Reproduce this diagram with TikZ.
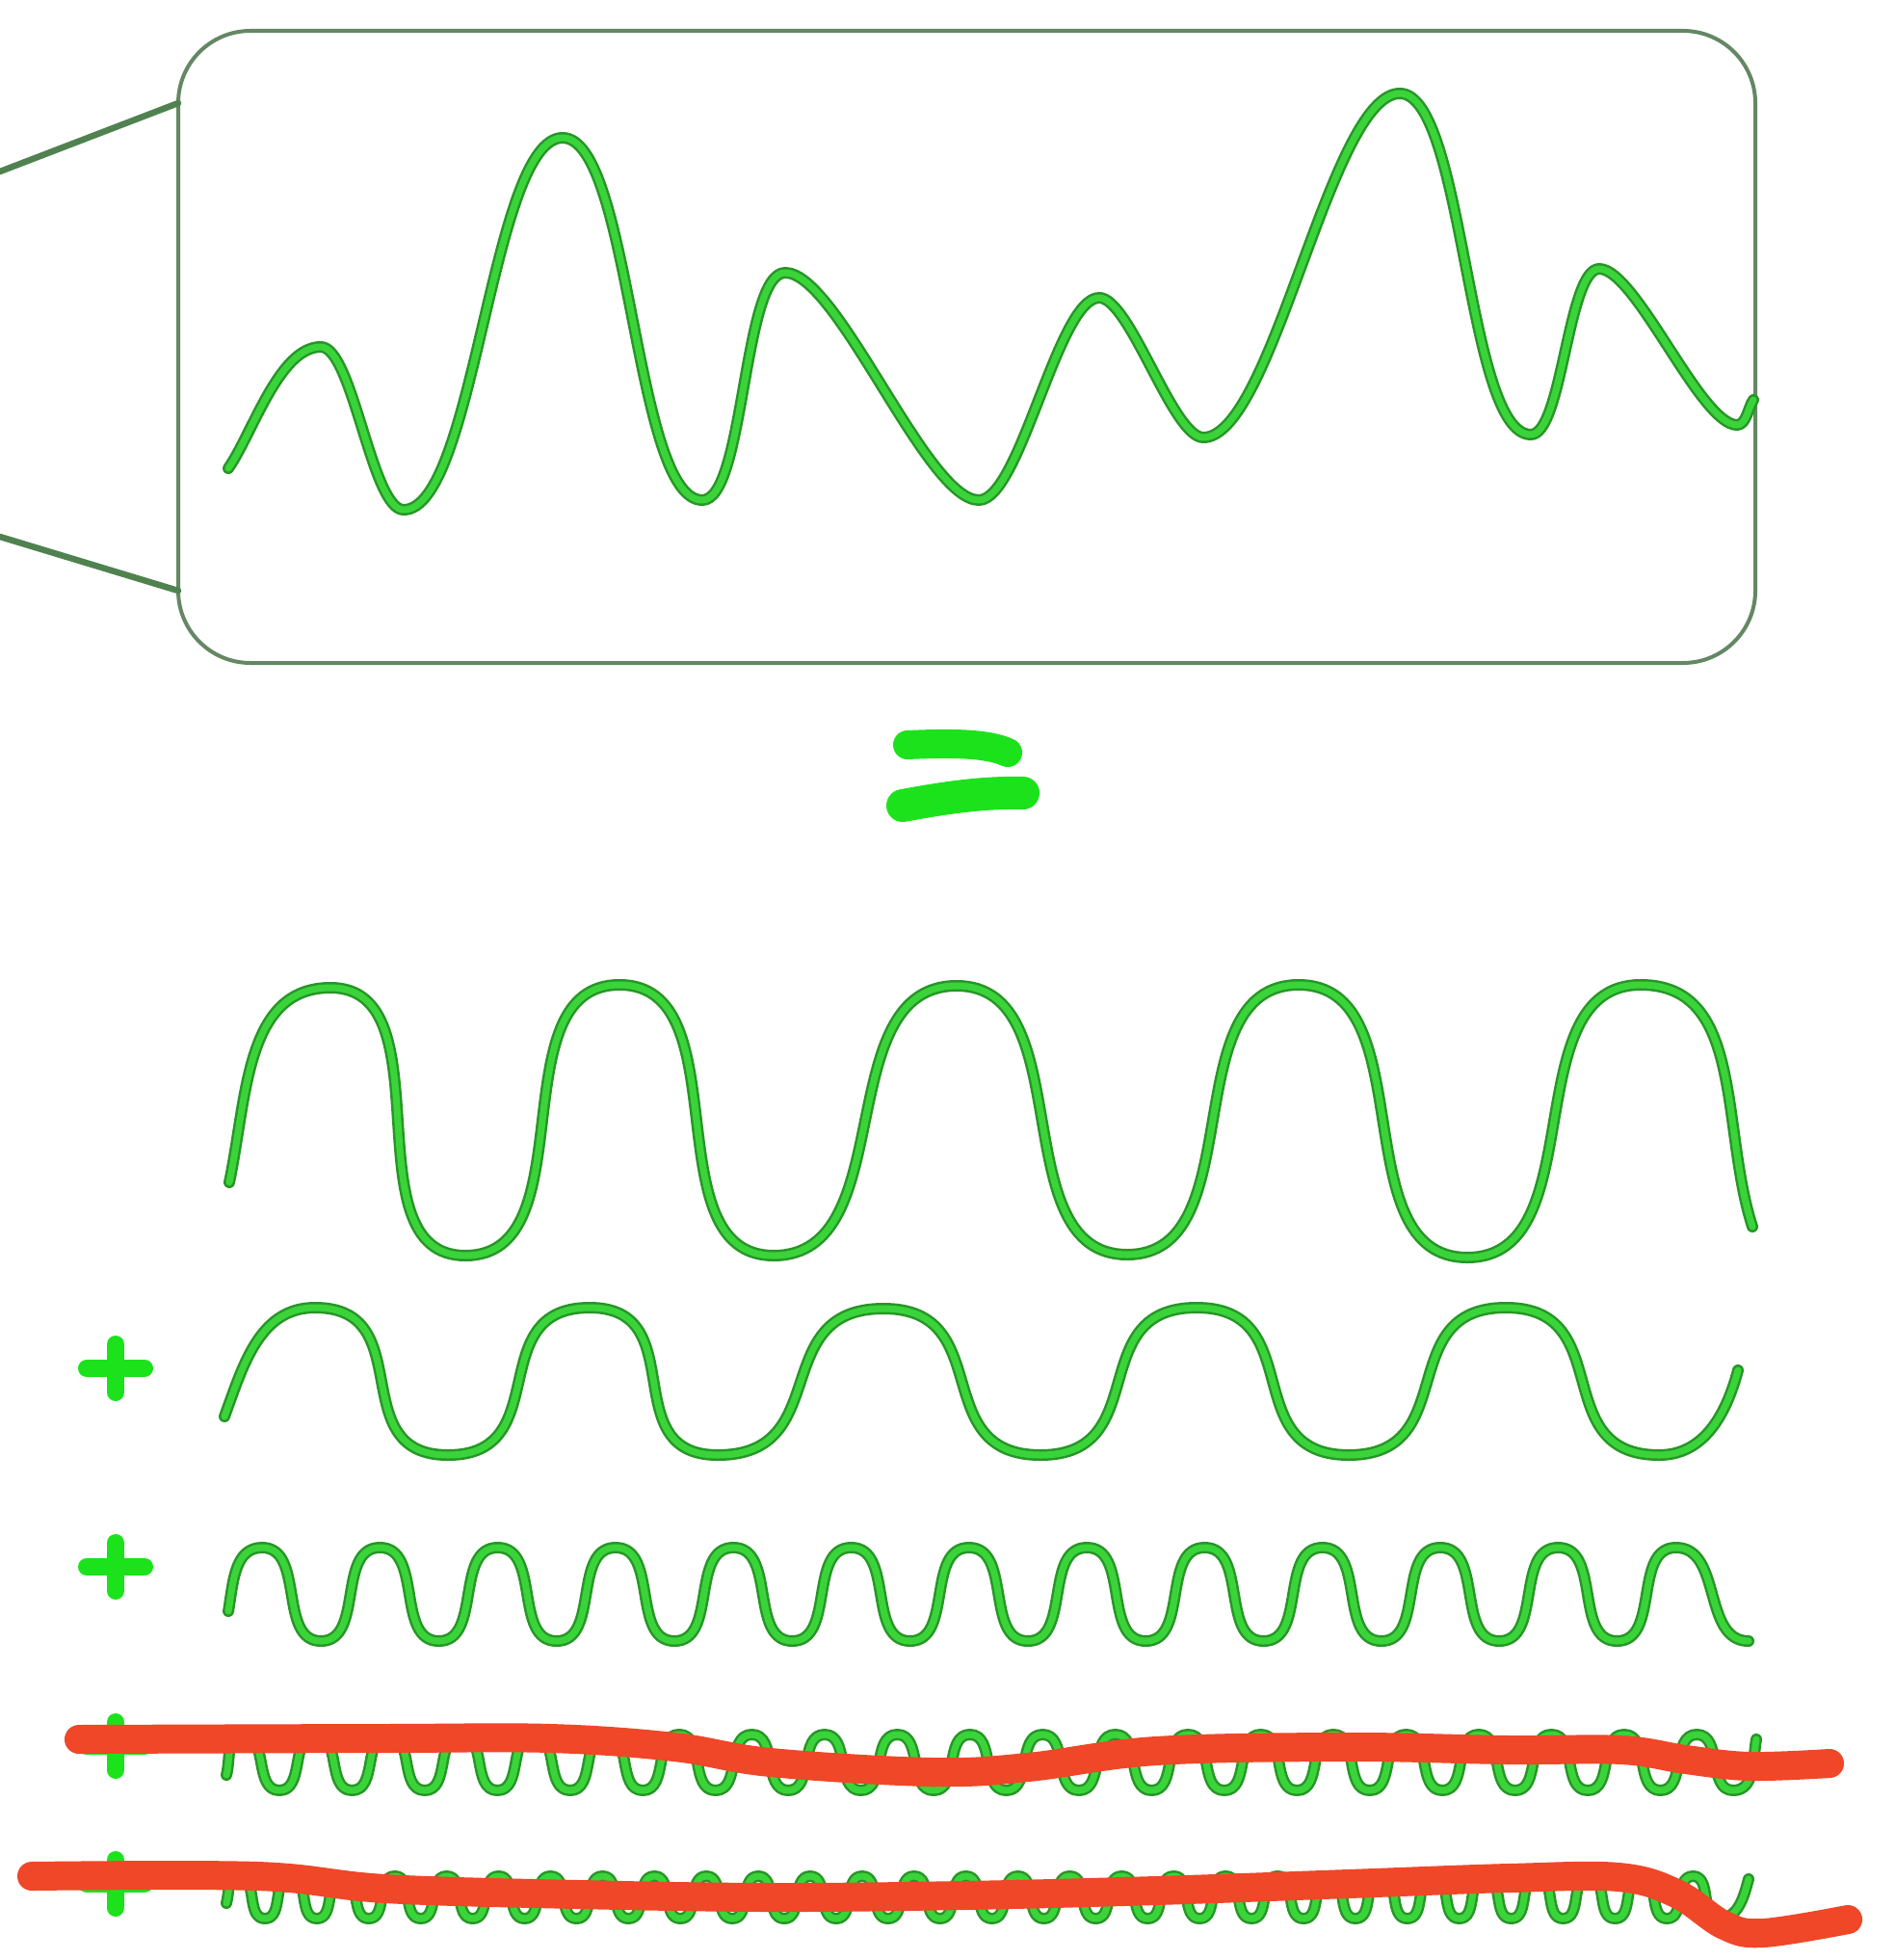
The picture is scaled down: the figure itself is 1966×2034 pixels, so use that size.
\documentclass[tikz,border=0pt]{standalone}
\definecolor{wavegreen}{RGB}{58,212,58}
\definecolor{waveedge}{RGB}{38,150,38}
\definecolor{markgreen}{RGB}{28,226,28}
\definecolor{boxgray}{RGB}{100,135,100}
\definecolor{tabgreen}{RGB}{80,130,80}
\definecolor{strikered}{RGB}{239,71,39}
\begin{document}
\begin{tikzpicture}[
    x=0.01cm, y=0.01cm,
    boxline/.style={draw=boxgray, line width=0.04cm},
    tabline/.style={draw=tabgreen, line width=0.065cm, line cap=round},
    wave/.style={draw=waveedge, double=wavegreen, double distance=0.07cm, line width=0.025cm, line cap=round, line join=round},
    plusmark/.style={draw=markgreen, line width=0.18cm, line cap=round},
    eqbar/.style={draw=markgreen, line cap=round},
    strikeline/.style={draw=strikered, line width=0.30cm, line cap=round, line join=round}
  ]
    \useasboundingbox (0,0) rectangle (1966,-2034);
    \draw[boxline, rounded corners=0.75cm] (185,-32) rectangle (1822,-688);
    \draw[tabline] (0,-178) -- (185,-107);
    \draw[tabline] (0,-557) -- (185,-613);
    \draw[wave, out=0, in=180, looseness=0.45] (237,-486) to[out=55,looseness=0.7] (333,-360) to (419,-529)
      to (584,-143) to (729,-519) to (815,-283) to (1016,-519) to (1141,-309) to (1249,-454)
      to (1453,-97) to (1589,-451) to (1660,-279) to (1803,-441) to[in=235,looseness=0.8] (1820,-415);
    \draw[eqbar, line width=0.30cm] (942,-773) .. controls (985,-771) and (1025,-771) .. (1046,-781);
    \draw[eqbar, line width=0.34cm] (937,-836) .. controls (980,-828) and (1020,-822) .. (1062,-823);
    \draw[wave, out=0, in=180] (238,-1227) to[out=78] (343,-1025) to (483,-1303) to (643,-1022)
      to (803,-1303) to (993,-1023) to (1170,-1302) to (1348,-1022) to (1523,-1305)
      to (1703,-1022) to[in=108] (1819,-1273);
    \draw[wave, out=0, in=180, looseness=1.35] (233,-1470) to[out=70,looseness=1] (327,-1357) to (465,-1510) to (612,-1357)
      to (745,-1510) to (917,-1358) to (1080,-1510) to (1242,-1357) to (1400,-1510)
      to (1563,-1357) to (1722,-1510) to[in=255,looseness=1] (1804,-1422);
    \draw[wave, out=0, in=180] (237,-1672) to[out=80] (272,-1606)
      \foreach \k [evaluate=\k as \xa using 272+(\k+0.5)*122.3,
                   evaluate=\k as \xb using 272+(\k+1)*122.3] in {0,...,11} { to (\xa,-1703) to (\xb,-1606) }
      to (1815,-1703);
    \draw[wave, out=0, in=180] (235,-1842) to[out=75] (252,-1800)
      \foreach \k [evaluate=\k as \xa using 290+\k*75.45,
                   evaluate=\k as \xb using 290+(\k+0.5)*75.45] in {0,...,19} { to (\xa,-1858) to (\xb,-1800) }
      to (1799,-1858) to[in=260] (1823,-1805);
    \draw[wave, out=0, in=180] (235,-1975) to[out=75] (248,-1947)
      \foreach \k [evaluate=\k as \xa using 275+\k*53.9,
                   evaluate=\k as \xb using 275+(\k+0.5)*53.9] in {0,...,27} { to (\xa,-1991) to (\xb,-1947) }
      to (1784,-1991) to[in=255] (1815,-1950);
    \foreach \py [evaluate=\py as \pa using -\py+25, evaluate=\py as \pb using -\py-25] in {1420,1626,1812,1955}
      \draw[plusmark] (90,-\py) -- (150,-\py) (120,\pa) -- (120,\pb);
    \draw[strikeline] plot[smooth, tension=0.6] coordinates {(82,-1805) (400,-1804) (571,-1804)
      (700,-1813) (800,-1829) (967,-1839) (1067,-1834) (1200,-1817) (1400,-1813) (1566,-1816)
      (1683,-1816) (1750,-1826) (1816,-1833) (1899,-1830)};
    \draw[strikeline] plot[smooth, tension=0.6] coordinates {(33,-1947) (267,-1947) (400,-1960)
      (600,-1966) (800,-1969) (1000,-1967) (1200,-1962) (1400,-1955) (1566,-1949) (1680,-1948)
      (1740,-1965) (1790,-1998) (1830,-2006) (1918,-1992)};
\end{tikzpicture}
\end{document}
